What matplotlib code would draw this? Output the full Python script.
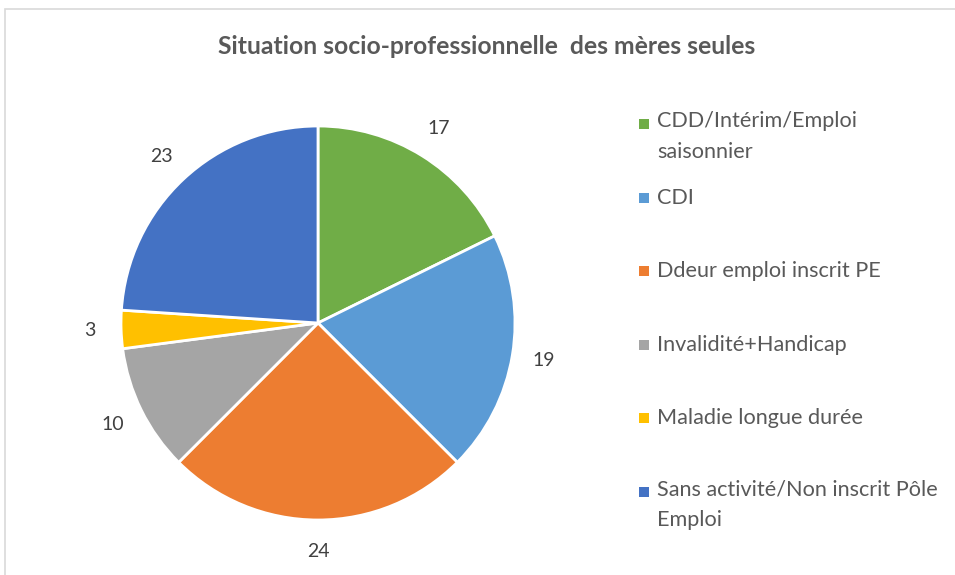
import matplotlib
matplotlib.use("Agg")
import matplotlib.pyplot as plt
from matplotlib.patches import Rectangle

categories = ["CDD/Intérim/Emploi\nsaisonnier", "CDI", "Ddeur emploi inscrit PE",
              "Invalidité+Handicap", "Maladie longue durée",
              "Sans activité/Non inscrit Pôle\nEmploi"]
values = [17, 19, 24, 10, 3, 23]
colors = ["#70AD47", "#5B9BD5", "#ED7D31", "#A5A5A5", "#FFC000", "#4472C4"]
title = "Situation socio-professionnelle  des mères seules"

plt.rcParams['font.family'] = ['Lato', 'DejaVu Sans']

W, H = 955, 575
fig = plt.figure(figsize=(W / 100, H / 100), dpi=100)
fig.patch.set_facecolor("white")

# chart border
fig.add_artist(Rectangle((4.5 / W, -0.01), 1.1, 1 - 8.5 / H + 0.01, transform=fig.transFigure,
                         fill=False, edgecolor="#D9D9D9", linewidth=1.2))

cx, cy, r = 318, 323, 197
ax = fig.add_axes([(cx - r) / W, (H - cy - r) / H, 2 * r / W, 2 * r / H])
total = sum(values)
wedges, _, autotexts = ax.pie(values, colors=colors, startangle=90, counterclock=False,
                              radius=1, autopct=lambda p: f"{round(p * total / 100)}",
                              pctdistance=1.16,
                              wedgeprops=dict(edgecolor="white", linewidth=2))
for t in autotexts:
    t.set_fontsize(14)
    t.set_color("#404040")
    t.set_clip_on(False)
ax.set_xlim(-1, 1)
ax.set_ylim(-1, 1)
ax.set_aspect("equal")
ax.axis("off")

fig.text(487 / W, 1 - 46 / H, title, ha="center", va="center", fontsize=17.8,
         fontweight="bold", color="#595959")

# legend
y0, step, lh = 124, 73.6, 28
for i, (lab, col) in enumerate(zip(categories, colors)):
    y = y0 + i * step
    n = lab.count("\n")
    fig.add_artist(Rectangle((639 / W, 1 - (y + 5) / H), 10 / W, 10 / H,
                             transform=fig.transFigure, facecolor=col, edgecolor="none"))
    fig.text(657 / W, 1 - (y + 6 + n * lh) / H, lab, ha="left", va="baseline", fontsize=15.6,
             color="#595959", linespacing=1.66,
             transform=fig.transFigure)

fig.savefig("out.png", dpi=100)
